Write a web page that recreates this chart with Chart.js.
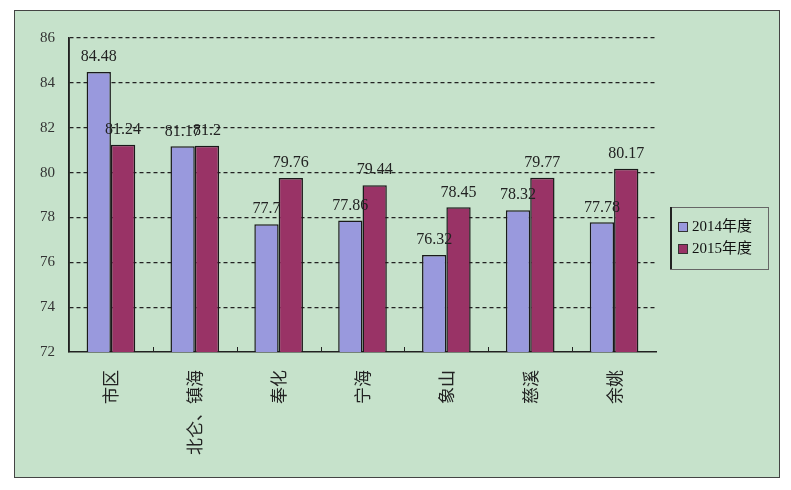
<!DOCTYPE html>
<html>
<head>
<meta charset="utf-8">
<script src="https://cdn.jsdelivr.net/npm/chart.js@4/dist/chart.umd.min.js"></script>
<style>
  body { margin:0; background:#ffffff; }
  #box { position:absolute; left:14px; top:10px; width:766px; height:468px;
         background:#c6e2cb; border:1px solid #444; box-sizing:border-box; }
</style>
</head>
<body>
<div id="box"><canvas id="c" width="764" height="466"></canvas></div>
<script>
var regions = ['市区', '北仑、镇海', '奉化', '宁海', '象山', '慈溪', '余姚']
var y2014 = [84.48, 81.17, 77.7, 77.86, 76.32, 78.32, 77.78]
var y2015 = [81.24, 81.2, 79.76, 79.44, 78.45, 79.77, 80.17]
var seriesNames = ['2014年度', '2015年度']

// value text over each bar
var valueLabels = {
  id: 'valueLabels',
  afterDatasetsDraw: function(chart){
    var ctx = chart.ctx
    ctx.save()
    ctx.font = '16px "Liberation Serif"'
    ctx.fillStyle = '#222'
    ctx.textAlign = 'center'
    ctx.textBaseline = 'bottom'
    chart.data.datasets.forEach(function(ds, i){
      chart.getDatasetMeta(i).data.forEach(function(bar, j){
        ctx.fillText(String(ds.data[j]), bar.x, bar.y - 7)
      })
    })
    ctx.restore()
  }
}

// solid value axis, small inward ticks between categories, boxed legend
var extras = {
  id: 'extras',
  afterDraw: function(chart){
    var ctx = chart.ctx
    var x = chart.scales.x
    var a = chart.chartArea
    ctx.save()
    ctx.strokeStyle = '#222'
    ctx.lineWidth = 1.5
    ctx.beginPath(); ctx.moveTo(a.left, a.top); ctx.lineTo(a.left, a.bottom); ctx.stroke()
    ctx.lineWidth = 1
    for (var i = 1; i < regions.length; i++){
      var px = Math.round((x.getPixelForValue(i - 1) + x.getPixelForValue(i)) / 2) + 0.5
      ctx.beginPath(); ctx.moveTo(px, a.bottom); ctx.lineTo(px, a.bottom - 5); ctx.stroke()
    }
    // legend
    var lx = 655, ly = 196, lw = 98, lh = 62
    ctx.strokeStyle = '#666'
    ctx.strokeRect(lx + 0.5, ly + 0.5, lw, lh)
    ctx.strokeStyle = '#222'
    ctx.lineWidth = 2
    ctx.beginPath(); ctx.moveTo(lx + 1, ly); ctx.lineTo(lx + 1, ly + lh); ctx.stroke()
    ctx.lineWidth = 1
    ctx.font = '15px "Liberation Serif", "Noto Sans CJK SC"'
    ctx.textBaseline = 'middle'
    chart.data.datasets.forEach(function(ds, i){
      var yy = ly + 20 + i * 22
      ctx.fillStyle = ds.backgroundColor
      ctx.fillRect(lx + 8, yy - 5, 10, 10)
      ctx.strokeStyle = '#333'
      ctx.strokeRect(lx + 8.5, yy - 4.5, 9, 9)
      ctx.fillStyle = '#111'
      ctx.fillText(ds.label, lx + 22, yy)
    })
    ctx.restore()
  }
}

var chart = new Chart(document.getElementById('c').getContext('2d'), {
  type: 'bar',
  data: {
    labels: regions,
    datasets: [
      { label: seriesNames[0], data: y2014, backgroundColor: '#9999dd',
        borderColor: '#1a1a1a', borderWidth: 1.5 },
      { label: seriesNames[1], data: y2015, backgroundColor: '#993366',
        borderColor: '#1a1a1a', borderWidth: 1.5 }
    ]
  },
  options: {
    responsive: false,
    animation: false,
    layout: { padding: { left: 14, right: 123, top: 27, bottom: 2 } },
    datasets: { bar: { categoryPercentage: 0.58, barPercentage: 1 } },
    plugins: { legend: { display: false }, tooltip: { enabled: false } },
    scales: {
      x: {
        grid: { display: false },
        border: { color: '#222', width: 1.5 },
        ticks: { minRotation: 90, maxRotation: 90, padding: 10,
                 color: '#222', font: { family: '"Noto Sans CJK SC"', size: 17 } },
        afterFit: function(s){ s.height = 123 }
      },
      y: {
        min: 72, max: 86,
        ticks: { stepSize: 2, padding: 14, color: '#333',
                 font: { family: '"Liberation Serif"', size: 15 } },
        border: { color: '#222', width: 1.5, dash: [4, 3] },
        grid: {
          color: function(c){ return c.tick && c.tick.value === 72 ? 'rgba(0,0,0,0)' : '#222' },
          lineWidth: 1.2, drawTicks: false
        },
        afterFit: function(s){ s.width = 40 }
      }
    }
  },
  plugins: [valueLabels, extras]
})
</script>
</body>
</html>
